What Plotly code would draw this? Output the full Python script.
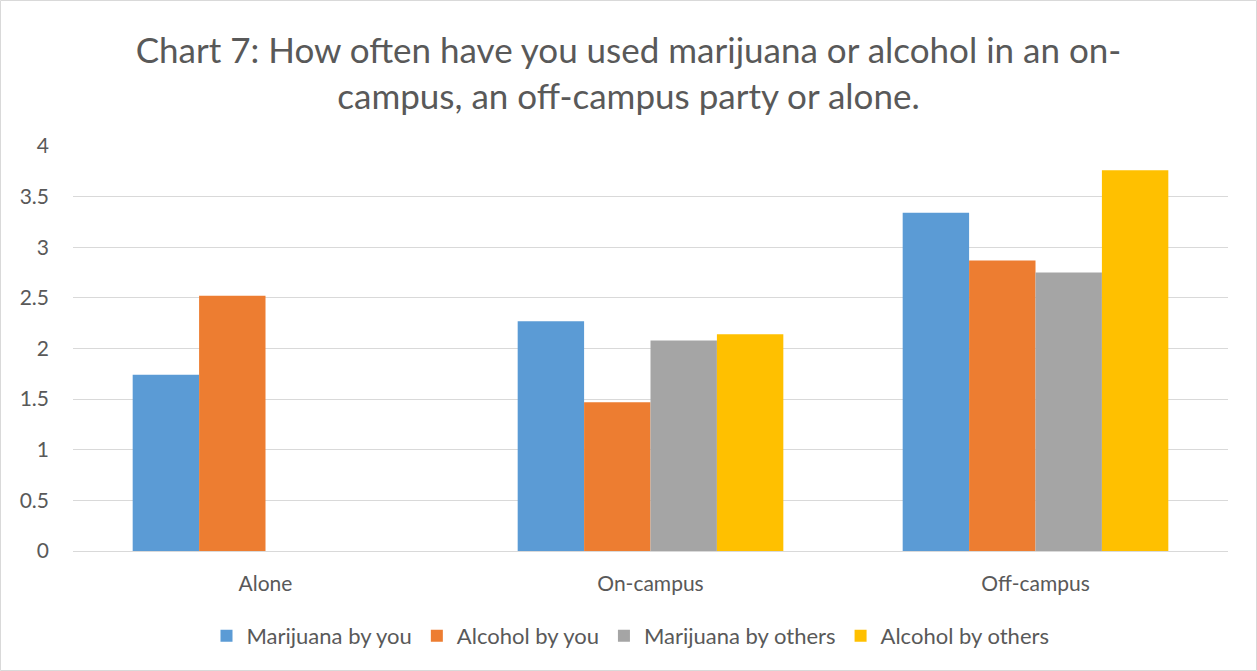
import plotly.graph_objects as go

categories = ["Alone", "On-campus", "Off-campus"]
marijuana_by_you = [1.74, 2.27, 3.34]
alcohol_by_you = [2.52, 1.47, 2.87]
marijuana_by_others = [None, 2.08, 2.75]
alcohol_by_others = [None, 2.14, 3.76]

series = [
    ("Marijuana by you", marijuana_by_you, "#5B9BD5"),
    ("Alcohol by you", alcohol_by_you, "#ED7D31"),
    ("Marijuana by others", marijuana_by_others, "#A5A5A5"),
    ("Alcohol by others", alcohol_by_others, "#FFC000"),
]

FONT = "Lato, Open Sans, sans-serif"
TEXT = "#595959"

fig = go.Figure()
for name, vals, color in series:
    fig.add_trace(go.Bar(x=categories, y=vals, name=name, marker_color=color,
                         marker_line_width=0))

W, H = 1257, 671
ml, mr, mt, mb = 73, 29, 146, 120
pw, ph = W - ml - mr, H - mt - mb

fig.update_layout(
    width=W, height=H,
    margin=dict(l=ml, r=mr, t=mt, b=mb),
    paper_bgcolor="white", plot_bgcolor="white",
    barmode="group", bargap=0.31, bargroupgap=0,
    font=dict(family=FONT, color=TEXT, size=21),
    title=dict(
        text="Chart 7: How often have you used marijuana or alcohol in an on-<br>campus, an off-campus party or alone.",
        x=0.5, xanchor="center", y=1 - 63 / H, yanchor="middle",
        font=dict(family=FONT, size=35, color=TEXT),
    ),
    xaxis=dict(showgrid=False, showline=False, ticks="", tickfont=dict(size=21, color=TEXT),
               ticklabelstandoff=18),
    yaxis=dict(range=[0, 4], dtick=0.5, showgrid=True, gridcolor="#D9D9D9", gridwidth=1,
               zeroline=True, zerolinecolor="#D9D9D9", zerolinewidth=1, showline=False,
               ticks="", tickfont=dict(size=21, color=TEXT), ticklabelstandoff=23),
    legend=dict(orientation="h", x=0.5 - 20 / pw, xanchor="center", y=-(636 - 551) / ph,
                yanchor="middle", font=dict(size=22, color=TEXT), itemwidth=30,
                traceorder="normal"),
    shapes=[dict(type="rect", xref="paper", yref="paper",
                 x0=-(ml - 0.5) / pw, x1=1 + (mr - 0.5) / pw,
                 y0=-(mb - 0.5) / ph, y1=1 + (mt - 0.5) / ph,
                 line=dict(color="#D9D9D9", width=1), fillcolor="rgba(0,0,0,0)", layer="below")],
)

fig.write_html("out.html")
